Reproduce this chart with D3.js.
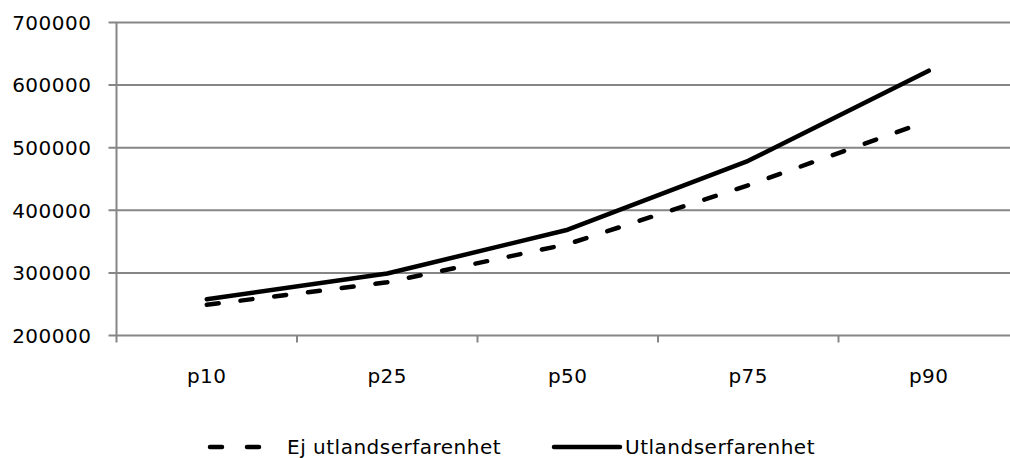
<!DOCTYPE html>
<html>
<head>
<meta charset="utf-8">
<script src="https://cdn.jsdelivr.net/npm/d3@7"></script>
<style>
  body { margin: 0; background: #fff; }
  svg { display: block; font-family: "DejaVu Sans", Verdana, sans-serif; }
</style>
</head>
<body>
<div class="chart"></div>
<script>
// data
const categories = ['p10', 'p25', 'p50', 'p75', 'p90'];
const ejUtland = [249000, 285000, 346000, 440000, 543000];
const utland = [258000, 299000, 369000, 479000, 623000];
const yTicks = [200000, 300000, 400000, 500000, 600000, 700000];

const margin = ({top: 22.5, right: 0, bottom: 122.5, left: 116.5});
const width = 902.5;
const height = 313;
const fontSize = 20;
const spacing = 0.5;

const svg = d3.select('.chart')
  .append('svg')
  .attr('width', 1010)
  .attr('height', 458);

const g = svg.append('g')
  .attr('transform', 'translate(' + margin.left + ',' + margin.top + ')');

const xScale = d3.scaleBand()
  .domain(categories)
  .range([0, width]);

const yScale = d3.scaleLinear()
  .domain([200000, 700000])
  .range([height, 0]);

const grey = '#868686';

// gridlines
g.selectAll('.grid')
  .data(yTicks)
  .enter()
  .append('line')
  .attr('class', 'grid')
  .attr('x1', -8)
  .attr('x2', width)
  .attr('y1', d => yScale(d))
  .attr('y2', d => yScale(d))
  .attr('stroke', grey)
  .attr('stroke-width', 2);

// y axis line
g.append('line')
  .attr('x1', 0).attr('x2', 0)
  .attr('y1', 0).attr('y2', height + 7)
  .attr('stroke', grey)
  .attr('stroke-width', 2);

// x tick marks at band edges
g.selectAll('.xtick')
  .data(categories.slice(1))
  .enter()
  .append('line')
  .attr('x1', d => xScale(d))
  .attr('x2', d => xScale(d))
  .attr('y1', height)
  .attr('y2', height + 7)
  .attr('stroke', grey)
  .attr('stroke-width', 2);

// y labels
g.selectAll('.ylab')
  .data(yTicks)
  .enter()
  .append('text')
  .attr('x', -25)
  .attr('y', d => yScale(d))
  .attr('dy', '0.36em')
  .attr('text-anchor', 'end')
  .attr('font-size', fontSize)
  .attr('letter-spacing', spacing)
  .attr('fill', '#000')
  .text(d => d);

// x labels
g.selectAll('.xlab')
  .data(categories)
  .enter()
  .append('text')
  .attr('x', d => xScale(d) + xScale.bandwidth() / 2)
  .attr('y', height + 47)
  .attr('text-anchor', 'middle')
  .attr('font-size', fontSize)
  .attr('letter-spacing', spacing)
  .attr('fill', '#000')
  .text(d => d);

const line = d3.line()
  .x((d, i) => xScale(categories[i]) + xScale.bandwidth() / 2)
  .y(d => yScale(d));

g.append('path')
  .datum(ejUtland)
  .attr('d', line)
  .attr('fill', 'none')
  .attr('stroke', '#000')
  .attr('stroke-width', 4.5)
  .attr('stroke-linecap', 'round')
  .attr('stroke-dasharray', '12,22');

g.append('path')
  .datum(utland)
  .attr('d', line)
  .attr('fill', 'none')
  .attr('stroke', '#000')
  .attr('stroke-width', 4.5)
  .attr('stroke-linecap', 'round')
  .attr('stroke-linejoin', 'round');

// legend
const legY = 447;
svg.append('line')
  .attr('x1', 210).attr('x2', 260)
  .attr('y1', legY).attr('y2', legY)
  .attr('stroke', '#000')
  .attr('stroke-width', 4.5)
  .attr('stroke-linecap', 'round')
  .attr('stroke-dasharray', '12,25');
svg.append('text')
  .attr('x', 287).attr('y', legY - 0.5)
  .attr('dy', '0.36em')
  .attr('font-size', fontSize)
  .attr('letter-spacing', spacing)
  .text('Ej utlandserfarenhet');

svg.append('line')
  .attr('x1', 554).attr('x2', 620)
  .attr('y1', legY).attr('y2', legY)
  .attr('stroke', '#000')
  .attr('stroke-width', 4.5)
  .attr('stroke-linecap', 'round');
svg.append('text')
  .attr('x', 625).attr('y', legY - 0.5)
  .attr('dy', '0.36em')
  .attr('font-size', fontSize)
  .attr('letter-spacing', spacing)
  .text('Utlandserfarenhet');
</script>
</body>
</html>
